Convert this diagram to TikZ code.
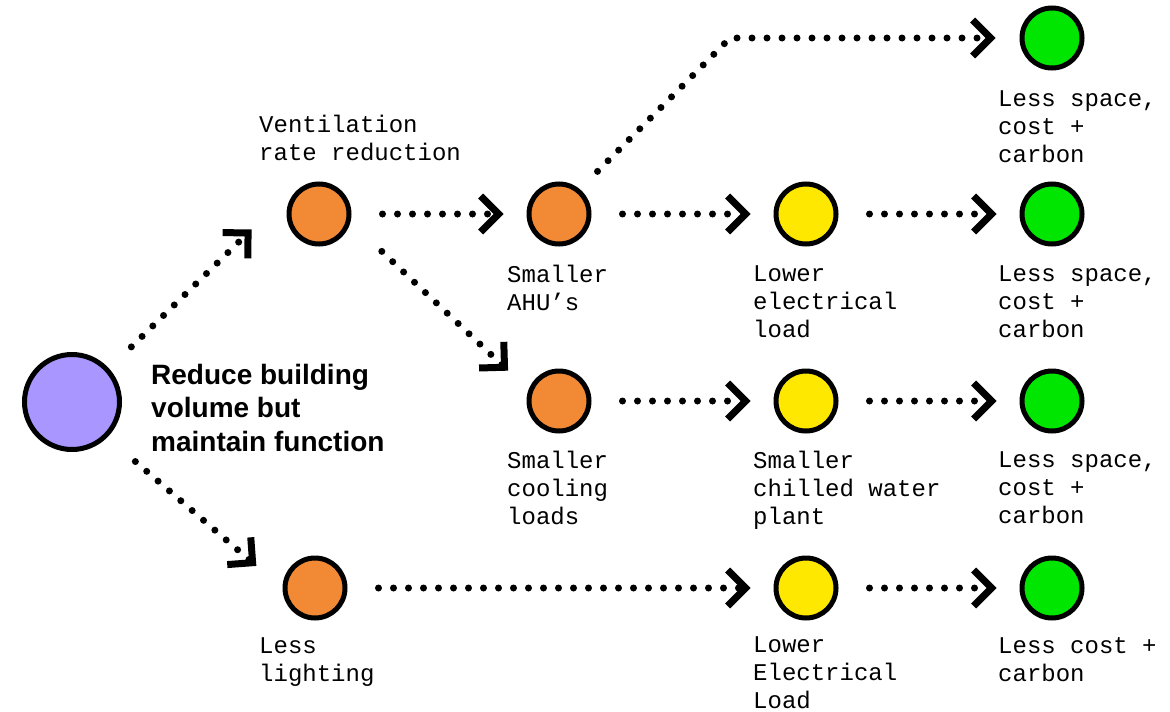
\documentclass[tikz,border=0pt]{standalone}
\usepackage{fontspec}
\setmainfont{Liberation Sans}
\newfontfamily\monof{Liberation Mono}
\usetikzlibrary{arrows.meta,calc}
\definecolor{cpurple}{HTML}{A996FF}
\definecolor{corange}{HTML}{F28A35}
\definecolor{cyellow}{HTML}{FFE800}
\definecolor{cgreen}{HTML}{00E600}
\begin{document}
\begin{tikzpicture}[x=1pt,y=-1pt,
  dot/.style={circle,draw=black,line width=5pt,minimum size=60pt,inner sep=0pt},
  big/.style={circle,draw=black,line width=5pt,minimum size=95pt,inner sep=0pt},
  lab/.style={anchor=north west,inner sep=0pt,align=left,font=\monof\fontsize{24}{28}\selectfont},
  arr/.style={line width=7pt,dash pattern=on 0pt off 15pt,line cap=round,
    -{Straight Barb[length=18pt,width=36pt,line width=7pt]}},
  harr/.style={arr,shorten <=31pt,shorten >=23pt}
]
\useasboundingbox (0,0) rectangle (1170,712);
\fill[white] (0,0) rectangle (1170,712);
% circles
\node[big,fill=cpurple] (p) at (72,402) {};
\node[dot,fill=corange] (v) at (319,214) {};
\node[dot,fill=corange] (a) at (559,214) {};
\node[dot,fill=corange] (c) at (559,401) {};
\node[dot,fill=corange] (l) at (315,588) {};
\node[dot,fill=cyellow] (e1) at (806,214) {};
\node[dot,fill=cyellow] (e2) at (806,401) {};
\node[dot,fill=cyellow] (e3) at (806,588) {};
\node[dot,fill=cgreen] (g1) at (1052,38) {};
\node[dot,fill=cgreen] (g2) at (1052,214) {};
\node[dot,fill=cgreen] (g3) at (1052,401) {};
\node[dot,fill=cgreen] (g4) at (1052,588) {};
% title
\node[anchor=north west,inner sep=0pt,align=left,font=\bfseries\fontsize{28}{33.5}\selectfont] (t) at (151,364) {Reduce building\\volume but\\maintain function};
% labels
\node[lab] (tv) at (259,115) {Ventilation\\rate reduction};
\node[lab] (ta) at (507,265) {Smaller\\AHU’s};
\node[lab] (tc) at (507,451) {Smaller\\cooling\\loads};
\node[lab] (tl) at (259,637) {Less\\lighting};
\node[lab] (te1) at (753,265) {Lower\\electrical\\load};
\node[lab] (te2) at (753,451) {Smaller\\chilled water\\plant};
\node[lab] (te3) at (753,636) {Lower\\Electrical\\Load};
\node[lab] (tg1) at (998,90) {Less space,\\cost +\\carbon};
\node[lab] (tg2) at (998,265) {Less space,\\cost +\\carbon};
\node[lab] (tg3) at (998,451) {Less space,\\cost +\\carbon};
\node[lab] (tg4) at (998,637) {Less cost +\\carbon};
% connectors
\coordinate (k) at (730,38);
\draw[arr,shorten <=31pt,shorten >=25pt] (p.42) -- ($(v.west)+(-17,-2)$);
\draw[arr,shorten <=37pt,shorten >=20pt] (p.-45) -- ($(l.west)+(-11,-9)$);
\draw[harr] (v.east) -- (a.west);
\draw[arr,shorten <=43pt,shorten >=28pt] (v.-14) -- (c.160);
\draw[arr,shorten <=25pt,shorten >=24pt] (a.50) -- (k) -- (g1.west);
\draw[harr] (a.east) -- (e1.west);
\draw[harr] (e1.east) -- (g2.west);
\draw[harr] (c.east) -- (e2.west);
\draw[harr] (e2.east) -- (g3.west);
\draw[harr] (l.east) -- (e3.west);
\draw[harr] (e3.east) -- (g4.west);
\end{tikzpicture}
\end{document}
